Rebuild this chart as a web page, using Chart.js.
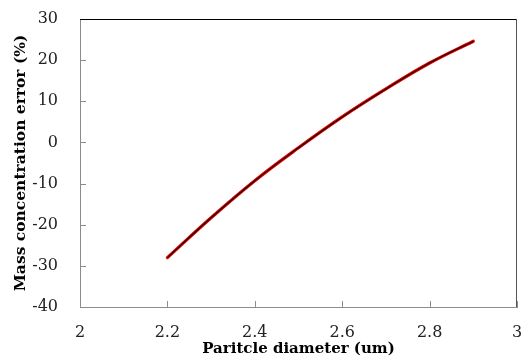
<!DOCTYPE html>
<html>
<head>
<meta charset="utf-8">
<script src="https://cdn.jsdelivr.net/npm/chart.js@4"></script>
<style>
  html, body { margin: 0; padding: 0; background: #fff; }
  #wrap { width: 526px; height: 358px; position: relative; }
</style>
</head>
<body>
<div id="wrap"><canvas id="c"></canvas></div>
<script>
// particle diameter (um) and mass concentration error (%)
const diameters = [2.2, 2.3, 2.4, 2.5, 2.6, 2.7, 2.8, 2.9];
const errors = [-28.0, -18.3, -9.3, -1.3, 6.2, 13.0, 19.3, 24.6];
const xTicks = [2, 2.2, 2.4, 2.6, 2.8, 3];
const yTicks = [-40, -30, -20, -10, 0, 10, 20, 30];

const pts = diameters.map((d, i) => ({ x: d, y: errors[i] }));

// ticks point inward, like the original
const innerTicks = {
  id: 'innerTicks',
  afterDatasetsDraw(chart) {
    const ctx = chart.ctx, a = chart.chartArea;
    const xs = chart.scales.x, ys = chart.scales.y;
    ctx.save();
    ctx.strokeStyle = '#8c8c8c';
    ctx.lineWidth = 1;
    ctx.beginPath();
    xTicks.forEach(v => {
      const px = Math.round(xs.getPixelForValue(v)) + 0.5;
      ctx.moveTo(px, a.bottom);
      ctx.lineTo(px, a.bottom - 6);
    });
    yTicks.forEach(v => {
      const py = Math.round(ys.getPixelForValue(v)) + 0.5;
      ctx.moveTo(a.left, py);
      ctx.lineTo(a.left + 6, py);
    });
    ctx.stroke();
    // frame: top and right edges are dark
    ctx.strokeStyle = '#000';
    ctx.beginPath();
    ctx.moveTo(a.left, a.top + 0.5);
    ctx.lineTo(a.right, a.top + 0.5);
    ctx.stroke();
    ctx.strokeStyle = '#555';
    ctx.beginPath();
    ctx.moveTo(a.right - 0.5, a.top);
    ctx.lineTo(a.right - 0.5, a.bottom);
    ctx.stroke();
    ctx.restore();
  }
};

const tickFont = { family: 'DejaVu Serif', size: 16 };

new Chart(document.getElementById('c'), {
  type: 'scatter',
  data: {
    datasets: [
      {
        data: pts,
        showLine: true,
        borderColor: '#e00000',
        borderWidth: 3.2,
        pointRadius: 0,
        tension: 0.4,
        borderCapStyle: 'round',
        order: 2
      },
      {
        data: pts,
        showLine: true,
        borderColor: '#1a0000',
        borderWidth: 1.2,
        pointRadius: 0,
        tension: 0.4,
        order: 1
      }
    ]
  },
  options: {
    responsive: true,
    maintainAspectRatio: false,
    animation: false,
    layout: { padding: { top: 19, right: 9, left: 0, bottom: 0 } },
    plugins: { legend: { display: false }, tooltip: { enabled: false } },
    scales: {
      x: {
        type: 'linear',
        min: 2, max: 3,
        afterBuildTicks: s => { s.ticks = xTicks.map(v => ({ value: v })); },
        afterFit: s => { s.height = 51; },
        // invisible tick marks give the label offset without extra side padding
        grid: { display: false, drawTicks: true, tickLength: 16, tickColor: 'rgba(0,0,0,0)' },
        border: { color: '#8c8c8c', width: 1 },
        ticks: { font: tickFont, color: '#222', padding: 0, maxRotation: 0,
                 callback: v => String(v) },
        title: { display: true, text: 'Paritcle diameter (um)', color: '#000',
                 font: { family: 'DejaVu Serif', size: 15, weight: 'bold' },
                 padding: { top: 0, bottom: 0 } }
      },
      y: {
        min: -40, max: 30,
        afterBuildTicks: s => { s.ticks = yTicks.map(v => ({ value: v })); },
        afterFit: s => { s.width = 80; },
        grid: { display: false, drawTicks: true, tickLength: 22, tickColor: 'rgba(0,0,0,0)' },
        border: { color: '#8c8c8c', width: 1 },
        ticks: { font: tickFont, color: '#222', padding: 0 },
        title: { display: true, text: 'Mass concentration error (%)', color: '#000',
                 font: { family: 'DejaVu Serif', size: 15.5, weight: 'bold' },
                 padding: { top: 12, bottom: 0 } }
      }
    }
  },
  plugins: [innerTicks]
});
</script>
</body>
</html>
